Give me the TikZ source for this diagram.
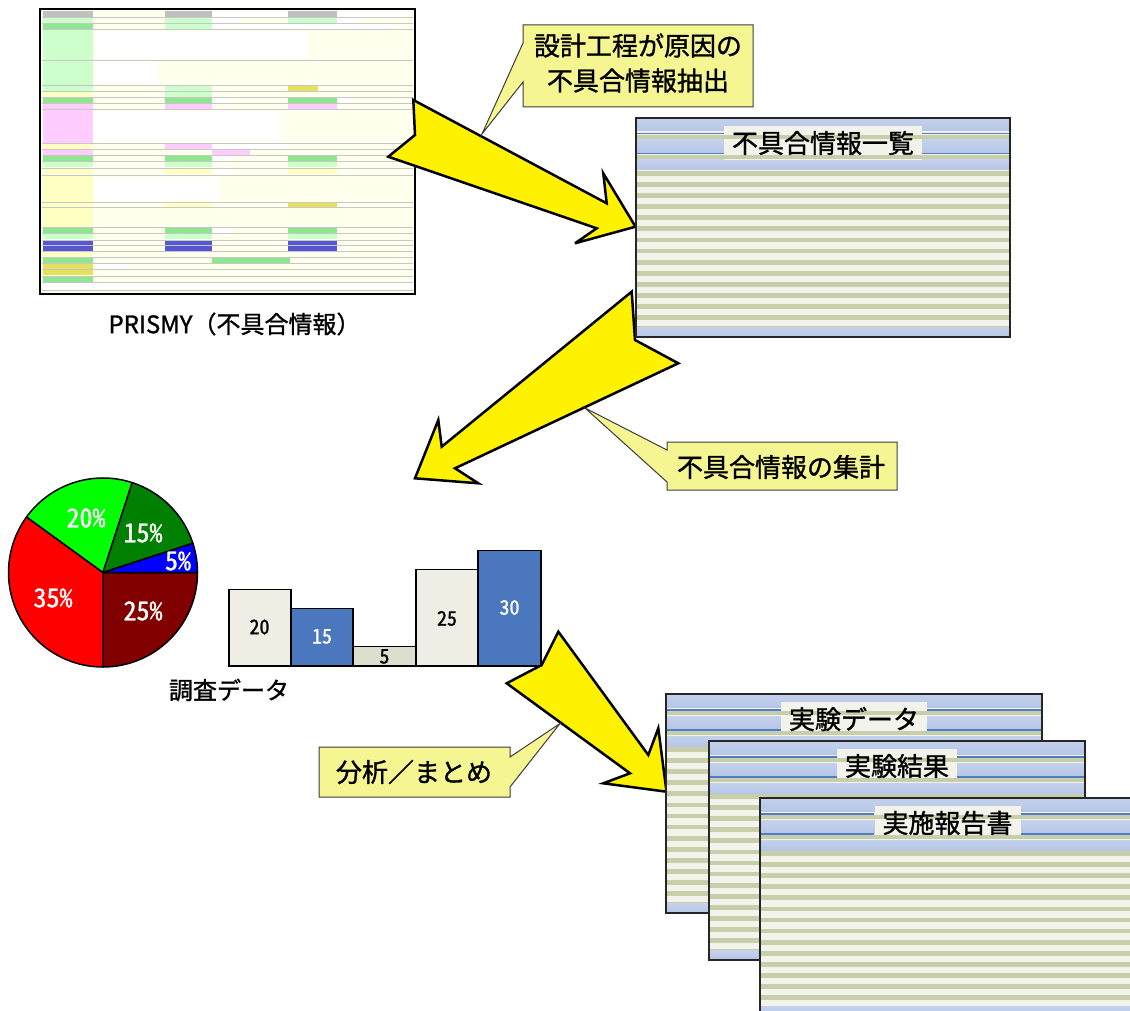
\documentclass[tikz,border=0pt]{standalone}
\usepackage{fontspec}
\setmainfont{Noto Sans CJK JP}[FakeBold=1.2]
\newfontfamily\halfwidth{Noto Sans CJK JP}[RawFeature=+hwid, FakeBold=1.2]

% form screenshot colours
\definecolor{formbg}{HTML}{FFFFEE}
\definecolor{fgray}{HTML}{C0C0C0}
\definecolor{flgreen}{HTML}{CCFFCC}
\definecolor{fgreen}{HTML}{8EE68E}
\definecolor{fpink}{HTML}{FFCCFF}
\definecolor{fbeige}{HTML}{FFFFC4}
\definecolor{fyellow}{HTML}{E6E05A}
\definecolor{fblue}{HTML}{5656D2}
% callouts
\definecolor{calloutfill}{HTML}{F5F592}
\definecolor{calloutline}{HTML}{3C3C3C}
% document sheets
\definecolor{sheetlight}{HTML}{F2F3EA}
\definecolor{sheetolive}{HTML}{C8CEAA}
\definecolor{bandtop}{HTML}{C4D1EC}
\definecolor{bandmid}{HTML}{EEF2FA}
\definecolor{bandbot}{HTML}{B6C6E6}
\definecolor{sheetrule}{HTML}{4F7CC6}
% charts
\definecolor{barlight}{HTML}{EEEEE5}
\definecolor{barblue}{HTML}{4A77BD}
\definecolor{barpale}{HTML}{DCDFCB}
\definecolor{piemaroon}{HTML}{800000}
\definecolor{piegreen}{HTML}{008000}

\tikzset{
  bigarrow/.style={fill=yellow, draw=black, line width=2.5pt, line join=miter, miter limit=5},
  callout/.style={fill=calloutfill, draw=calloutline, line width=1pt, line join=miter},
  callouttext/.style={font=\fontsize{26}{35}\selectfont, align=center, inner sep=0pt},
  sheetband/.style={top color=bandtop, middle color=bandmid, bottom color=bandbot},
  sheetedge/.style={draw=black!85, line width=2pt},
  titlebox/.style={fill=sheetlight, inner xsep=8pt, inner ysep=0pt, minimum height=34pt,
    font=\fontsize{26}{26}\selectfont},
  titletext/.style={inner sep=0pt, font=\fontsize{26}{26}\selectfont},
  rulestyle/.style={draw=sheetrule, line width=1.4pt},
  pieslice/.style={draw=black, line width=1.5pt, line join=round},
  pielabel/.style={text=white, inner sep=0pt, font=\halfwidth\fontsize{26}{26}\selectfont},
  bar/.style={draw=black, line width=1.5pt},
  barlabel/.style={inner sep=0pt, font=\halfwidth\fontsize{20}{20}\selectfont},
  caption/.style={inner sep=0pt},
  formrule/.style={draw=black!22, line width=0.5pt},
}

% a striped list sheet: name, left, top, right, bottom, title
\newcommand\docsheet[6]{%
  \fill[sheetlight] (#2,#3) rectangle (#4,#5);
  \pgfmathtruncatemacro\stripecount{(#5-#3-63)/11.1}
  \foreach \k in {0,...,\stripecount}
    \fill[sheetolive] (#2,{#3+53+11.1*\k}) rectangle (#4,{#3+57.7+11.1*\k});
  \shade[sheetband] (#2,#3) rectangle (#4,#3+13);
  \shade[sheetband] (#2,#3+22) rectangle (#4,#3+35);
  \shade[sheetband] (#2,#3+42) rectangle (#4,#3+52);
  \shade[sheetband] (#2,#5-10) rectangle (#4,#5);
  \node[titlebox] (#1) at ({(#2+#4)/2},#3+25) {\phantom{#6}};
  \fill[sheetolive] (#2,#3+17) rectangle (#4,#3+21.3);
  \fill[sheetolive] (#2,#3+37) rectangle (#4,#3+41.3);
  \coordinate (#1-ra) at (#2,#3+15.8);
  \coordinate (#1-rb) at (#4,#3+15.8);
  \coordinate (#1-rc) at (#2,#3+35.8);
  \coordinate (#1-rd) at (#4,#3+35.8);
  \draw[rulestyle] (#1-ra) -- (#1.west |- #1-ra);
  \draw[rulestyle] (#1.east |- #1-rb) -- (#1-rb);
  \draw[rulestyle] (#1-rc) -- (#1.west |- #1-rc);
  \draw[rulestyle] (#1.east |- #1-rd) -- (#1-rd);
  \node[titletext] (#1-text) at (#1) {#6};
  \draw[sheetedge] (#2,#3) rectangle (#4,#5);
}

\begin{document}
\begin{tikzpicture}[x=1pt, y=-1pt]
\useasboundingbox (0,0) rectangle (1130,1011);
\fill[white] (0,0) rectangle (1130,1011);

% ---------- PRISMY form screenshot ----------
\fill[formbg] (40,9) rectangle (415,294);
\foreach \xa/\ya/\xb/\yb/\c in {
  43/11/93/17/fgray, 165/11/212/17/fgray, 212/11/288/17/white, 288/11/337/17/fgray, 337/11/413/17/white,
  43/18/93/23/flgreen, 165/18/212/23/flgreen, 212/18/240/23/white, 288/18/337/23/flgreen, 337/18/360/23/white,
  43/24/93/29/fgreen, 165/24/212/29/flgreen, 212/24/395/29/white,
  43/30/93/60/flgreen, 95/31/308/59/white,
  43/61/93/85/flgreen, 95/61/158/84/white,
  43/86/93/91/flgreen, 165/86/212/91/flgreen, 288/86/318/91/fyellow,
  43/92/93/97/fbeige, 165/92/212/97/flgreen,
  43/98/93/103/fgreen, 165/98/212/103/fgreen, 212/98/232/103/white, 288/98/337/103/fgreen, 337/98/352/103/white,
  43/104/93/109/fpink, 165/104/212/109/fpink, 288/104/337/109/fpink,
  43/110/93/143/fpink, 95/111/280/142/white,
  43/144/93/149/fbeige, 165/144/212/149/fpink, 212/144/290/149/white,
  43/150/93/155/fpink, 212/150/250/155/fpink,
  43/156/93/161/fgreen, 165/156/212/161/fgreen, 212/156/232/161/white, 288/156/337/161/fgreen,
  43/162/93/167/flgreen, 165/162/212/167/flgreen, 288/162/337/167/flgreen,
  43/169/93/174/fbeige, 165/169/212/174/fbeige, 212/169/232/174/white, 288/169/337/174/fbeige,
  43/176/93/202/fbeige, 95/177/218/201/white,
  43/203/93/207/fbeige, 165/203/212/207/fbeige, 288/203/337/207/fyellow,
  43/208/93/227/fbeige,
  43/228/93/233/fgreen, 165/228/212/233/fgreen, 212/228/232/233/white, 288/228/337/233/fgreen,
  43/234/93/239/flgreen, 165/234/212/239/flgreen, 288/234/337/239/flgreen,
  43/241/93/245/fblue, 165/241/212/245/fblue, 288/241/337/245/fblue,
  43/246/93/251/fblue, 165/246/212/251/fblue, 288/246/337/251/fblue,
  43/252/93/257/fbeige,
  43/258/93/263/fgreen, 212/258/290/263/fgreen,
  43/264/93/269/fyellow, 93/264/130/269/white,
  43/270/93/275/fyellow,
  43/277/93/282/fgreen,
  43/283/413/290/white}
  \fill[\c] (\xa,\ya) rectangle (\xb,\yb);
\foreach \yy in {17.5,23.5,29.5,60.5,85.5,91.5,97.5,103.5,109.5,143.5,149.5,155.5,161.5,168,
                 175,202.5,207.5,227.5,233.5,240,245.5,251.5,257.5,263.5,269.5,276,282.5,290.5}
  \draw[formrule] (42,\yy) -- (413,\yy);
\draw[black, line width=2pt] (40,9) rectangle (415,294);
\node[caption, font=\fontsize{24}{24}\selectfont] (formcap) at (234.5,324) {PRISMY（不具合情報）};

% ---------- yellow process arrows ----------
\draw[bigarrow] (413.3,100) -- (415,135) -- (388.3,156.7) -- (596.7,228.3) -- (575,243.3)
  -- (635.5,226.7) -- (603.3,173.3) -- (606.7,203.3) -- cycle;
\draw[bigarrow] (631.7,291.7) -- (635,340) -- (678.3,363.3) -- (455,468.3) -- (478.3,483.3)
  -- (415,478.3) -- (438.3,420) -- (441.7,446.7) -- cycle;
\draw[bigarrow] (558.3,631.7) -- (541.7,665) -- (506.7,683.3) -- (630,773.3) -- (603.3,783.3)
  -- (666.5,791.7) -- (658.3,728.3) -- (648.3,755) -- cycle;

% ---------- defect list sheet ----------
\docsheet{listsheet}{636}{118}{1010}{337}{不具合情報一覧}

% ---------- pie chart ----------
\begin{scope}[shift={(103,572.5)}, yscale=-1]
  \filldraw[pieslice, fill=piemaroon] (0,0) -- (0:94.5) arc[start angle=0, end angle=-90, radius=94.5] -- cycle;
  \filldraw[pieslice, fill=red] (0,0) -- (-90:94.5) arc[start angle=-90, end angle=-216, radius=94.5] -- cycle;
  \filldraw[pieslice, fill=green] (0,0) -- (144:94.5) arc[start angle=144, end angle=72, radius=94.5] -- cycle;
  \filldraw[pieslice, fill=piegreen] (0,0) -- (72:94.5) arc[start angle=72, end angle=18, radius=94.5] -- cycle;
  \filldraw[pieslice, fill=blue] (0,0) -- (18:94.5) arc[start angle=18, end angle=0, radius=94.5] -- cycle;
\end{scope}
\node[pielabel] (p20) at (86,518) {20\%};
\node[pielabel] (p15) at (143,533) {15\%};
\node[pielabel] (p5)  at (178,561) {5\%};
\node[pielabel] (p35) at (53,598) {35\%};
\node[pielabel] (p25) at (143,611) {25\%};

% ---------- bar chart ----------
\draw[bar, fill=barlight] (229,589.3) rectangle (291,666);
\draw[bar, fill=barblue]  (291,608.3) rectangle (353,666);
\draw[bar, fill=barpale]  (353,646.7) rectangle (416,666);
\draw[bar, fill=barlight] (416,569.3) rectangle (478,666);
\draw[bar, fill=barblue]  (478,550.7) rectangle (541,666);
\node[barlabel] (b20) at (259.5,627) {20};
\node[barlabel, text=white] (b15) at (322,636.5) {15};
\node[barlabel] (b5)  at (384.5,656.5) {5};
\node[barlabel] (b25) at (447,618.5) {25};
\node[barlabel, text=white] (b30) at (509.5,607.5) {30};
\node[caption, font=\fontsize{24}{24}\selectfont] (surveycap) at (229,690) {調査データ};

% ---------- stacked result sheets ----------
\docsheet{datasheet}{666}{694}{1042}{913}{実験データ}
\docsheet{resultsheet}{709}{741}{1085}{960}{実験結果}
\begin{scope}
  \clip (0,0) rectangle (1130,1011);
  \docsheet{reportsheet}{760}{798}{1135}{1016}{実施報告書}
\end{scope}

% ---------- callouts ----------
\coordinate (tipA) at (482,134);
\draw[callout] (523,25) -- (753,25) -- (753,107) -- (523,107) -- (523,82) -- (tipA) -- (523,43) -- cycle;
\node[callouttext] (noteA) at (638,63) {設計工程が原因の\\不具合情報抽出};

\coordinate (tipB) at (585,408);
\draw[callout] (667,442) -- (897,442) -- (897,490) -- (667,490) -- (667,482) -- (tipB) -- (667,450) -- cycle;
\node[callouttext] (noteB) at (781,467) {不具合情報の集計};

\coordinate (tipC) at (560,723.5);
\draw[callout] (319,747) -- (510,747) -- (510,757) -- (tipC) -- (510,787) -- (510,797) -- (319,797) -- cycle;
\node[callouttext] (noteC) at (414,772) {分析／まとめ};
\end{tikzpicture}
\end{document}
